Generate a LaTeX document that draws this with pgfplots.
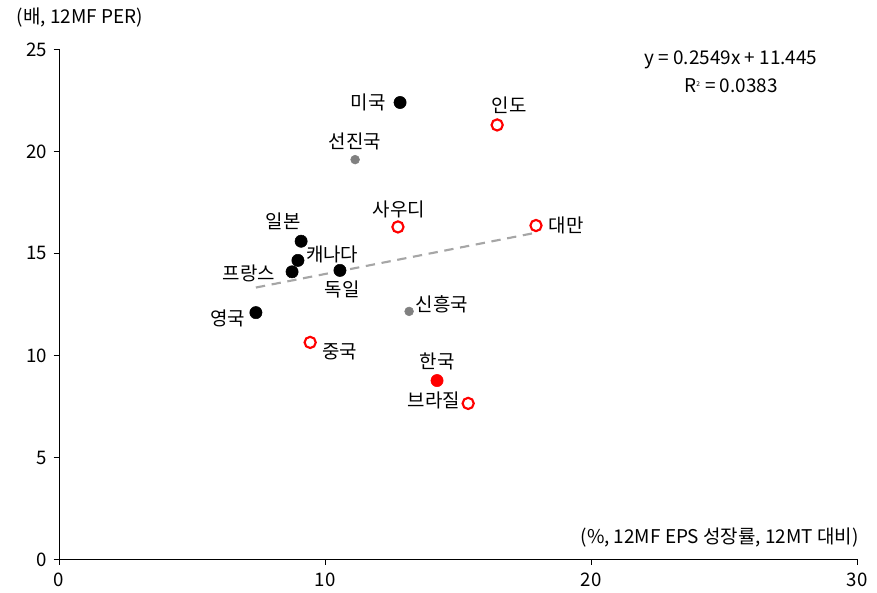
\documentclass[border=0pt]{standalone}
\usepackage{fontspec}
\setmainfont{Noto Sans CJK KR}
\usepackage{pgfplots}
\pgfplotsset{compat=1.18}
\definecolor{dotgray}{RGB}{128,128,128}
\definecolor{trendgray}{RGB}{166,166,166}
\definecolor{kred}{RGB}{255,0,0}

\begin{document}
\fontsize{14.2}{17}\selectfont
\begin{tikzpicture}
\begin{axis}[
    scale only axis,
    width=598.5pt, height=382.5pt,
    xmin=0, xmax=30, ymin=0, ymax=25,
    xtick={0,10,20,30}, ytick={0,5,10,15,20,25},
    axis x line*=bottom, axis y line*=left,
    axis line style={black, line width=0.6pt},
    tick style={black, line width=0.6pt},
    tick align=outside, major tick length=4pt,
    /pgf/number format/assume math mode=true,
    tick label style={font=\fontsize{14}{17}\selectfont},
    xticklabel style={yshift=-1pt},
    clip=false,
]
% trend line
\addplot[trendgray, line width=1.6pt, dash pattern=on 7pt off 5pt] coordinates {(7.4,13.33) (17.9,16.01)};
% advanced (black)
\addplot[only marks, mark=*, mark size=4.6pt, black] coordinates {
    (12.82,22.4) (9.1,15.6) (8.98,14.66) (8.76,14.1) (10.56,14.17) (7.4,12.1)
};
% aggregates (gray)
\addplot[only marks, mark=*, mark size=3.3pt, dotgray] coordinates {
    (11.13,19.6) (13.16,12.16)
};
% emerging (red open)
\addplot[only marks, mark=o, mark size=4.2pt, kred, line width=1.6pt] coordinates {
    (16.47,21.3) (12.74,16.3) (17.93,16.37) (9.44,10.64) (15.38,7.65)
};
% korea
\addplot[only marks, mark=*, mark size=4.6pt, kred] coordinates {(14.21,8.77)};

\node at (axis cs:11.62,22.4) {미국};
\node at (axis cs:16.92,22.25) {인도};
\node at (axis cs:11.13,20.49) {선진국};
\node at (axis cs:12.78,17.16) {사우디};
\node at (axis cs:19.06,16.37) {대만};
\node at (axis cs:8.42,16.57) {일본};
\node at (axis cs:10.27,14.95) {캐나다};
\node at (axis cs:7.14,14.02) {프랑스};
\node at (axis cs:10.64,13.24) {독일};
\node at (axis cs:6.35,11.81) {영국};
\node at (axis cs:14.40,12.50) {신흥국};
\node at (axis cs:10.56,10.2) {중국};
\node at (axis cs:14.21,9.7) {한국};
\node at (axis cs:14.1,7.79) {브라질};

\node at (axis cs:25.26,24.5) {y = 0.2549x + 11.445};
\node at (axis cs:25.26,23.2) {R\textsuperscript{\tiny 2} = 0.0383};

\node[anchor=west] at (rel axis cs:-0.061,1.063) {(배, 12MF PER)};
\node[anchor=east] at (rel axis cs:1.01,0.043) {(\%, 12MF EPS 성장률, 12MT 대비)};
\path (rel axis cs:-0.074,0) (rel axis cs:1.025,0) (rel axis cs:0,1.097);
\end{axis}
\end{tikzpicture}
\end{document}
